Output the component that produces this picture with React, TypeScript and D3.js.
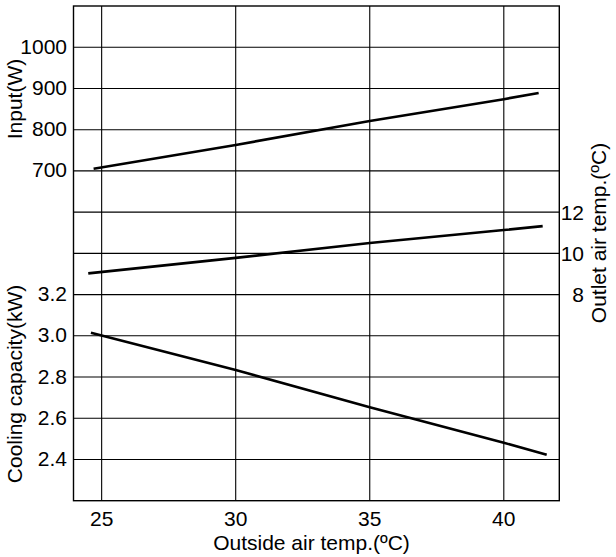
import React from "react";
import * as d3 from "d3";

// ---- data ----
const xTicks = [25, 30, 35, 40];
const capacityTicks = [2.4, 2.6, 2.8, 3.0, 3.2];
const inputTicks = [700, 800, 900, 1000];
const outletTicks = [8, 10, 12];
const gridCapacity = [2.4, 2.6, 2.8, 3.0, 3.2, 3.4, 3.6, 3.8, 4.0, 4.2, 4.4];

const inputTemp = [24.7, 30, 35, 40, 41.3];
const inputW = [705, 763, 821, 874, 889];

const outletTemp = [24.5, 30, 35, 40, 41.45];
const outletC = [9.03, 9.78, 10.5, 11.13, 11.32];

const capTemp = [24.6, 30, 35, 40, 41.6];
const capKW = [3.015, 2.834, 2.653, 2.481, 2.423];

const W = 616;
const H = 557;
const L = 73.5, R = 559.3, T = 6, B = 500.7;
const FONT = "'Liberation Sans', Arial, Helvetica, sans-serif";
const FS = 21;

export default function App() {
  const x = d3.scaleLinear().domain([23.95, 42.07]).range([L, R]);
  const yCap = d3.scaleLinear().domain([2.2, 4.6]).range([B, T]);
  const yIn = d3.scaleLinear().domain([-100, 1100]).range([B, T]);
  const yOut = d3.scaleLinear().domain([-2, 22]).range([B, T]);

  const mk = (xs: number[], ys: number[], ys2: d3.ScaleLinear<number, number>) =>
    d3.line<number>().x((_, i) => x(xs[i])).y((d) => ys2(d))(ys) || "";

  return (
    <svg width={W} height={H} style={{ position: "absolute", left: 0, top: 0, background: "#fff" }}
      fontFamily={FONT}>
      <rect x={0} y={0} width={W} height={H} fill="#fff" />
      {gridCapacity.map((v) => (
        <line key={"h" + v} x1={L} x2={R} y1={yCap(v)} y2={yCap(v)} stroke="#000" strokeWidth={1.1} />
      ))}
      {xTicks.map((v) => (
        <line key={"v" + v} x1={x(v)} x2={x(v)} y1={T} y2={B} stroke="#000" strokeWidth={1.1} />
      ))}
      <rect x={L} y={T} width={R - L} height={B - T} fill="none" stroke="#000" strokeWidth={1.4} />

      <path d={mk(inputTemp, inputW, yIn)} fill="none" stroke="#000" strokeWidth={2.6} />
      <path d={mk(outletTemp, outletC, yOut)} fill="none" stroke="#000" strokeWidth={2.6} />
      <path d={mk(capTemp, capKW, yCap)} fill="none" stroke="#000" strokeWidth={2.6} />

      {xTicks.map((v) => (
        <text key={"xt" + v} x={x(v)} y={525.5} textAnchor="middle" fontSize={FS} fill="#000">{v}</text>
      ))}
      {inputTicks.map((v) => (
        <text key={"it" + v} x={67} y={yIn(v) + 6.5} textAnchor="end" fontSize={FS} fill="#000">{v}</text>
      ))}
      {capacityTicks.map((v) => (
        <text key={"ct" + v} x={67} y={yCap(v) + 6.5} textAnchor="end" fontSize={FS} fill="#000">{v.toFixed(1)}</text>
      ))}
      {outletTicks.map((v) => (
        <text key={"ot" + v} x={584} y={yOut(v) + 7.5} textAnchor="end" fontSize={FS} fill="#000">{v}</text>
      ))}

      <text x={311.5} y={549.5} textAnchor="middle" fontSize={FS} fill="#000">Outside air temp.(ºC)</text>
      <text transform={`translate(22,99) rotate(-90)`} textAnchor="middle" fontSize={FS} fill="#000">Input(W)</text>
      <text transform={`translate(22,384) rotate(-90)`} textAnchor="middle" fontSize={FS} fill="#000">Cooling capacity(kW)</text>
      <text transform={`translate(605.5,233) rotate(-90)`} textAnchor="middle" fontSize={FS} fill="#000">Outlet air temp.(ºC)</text>
    </svg>
  );
}
